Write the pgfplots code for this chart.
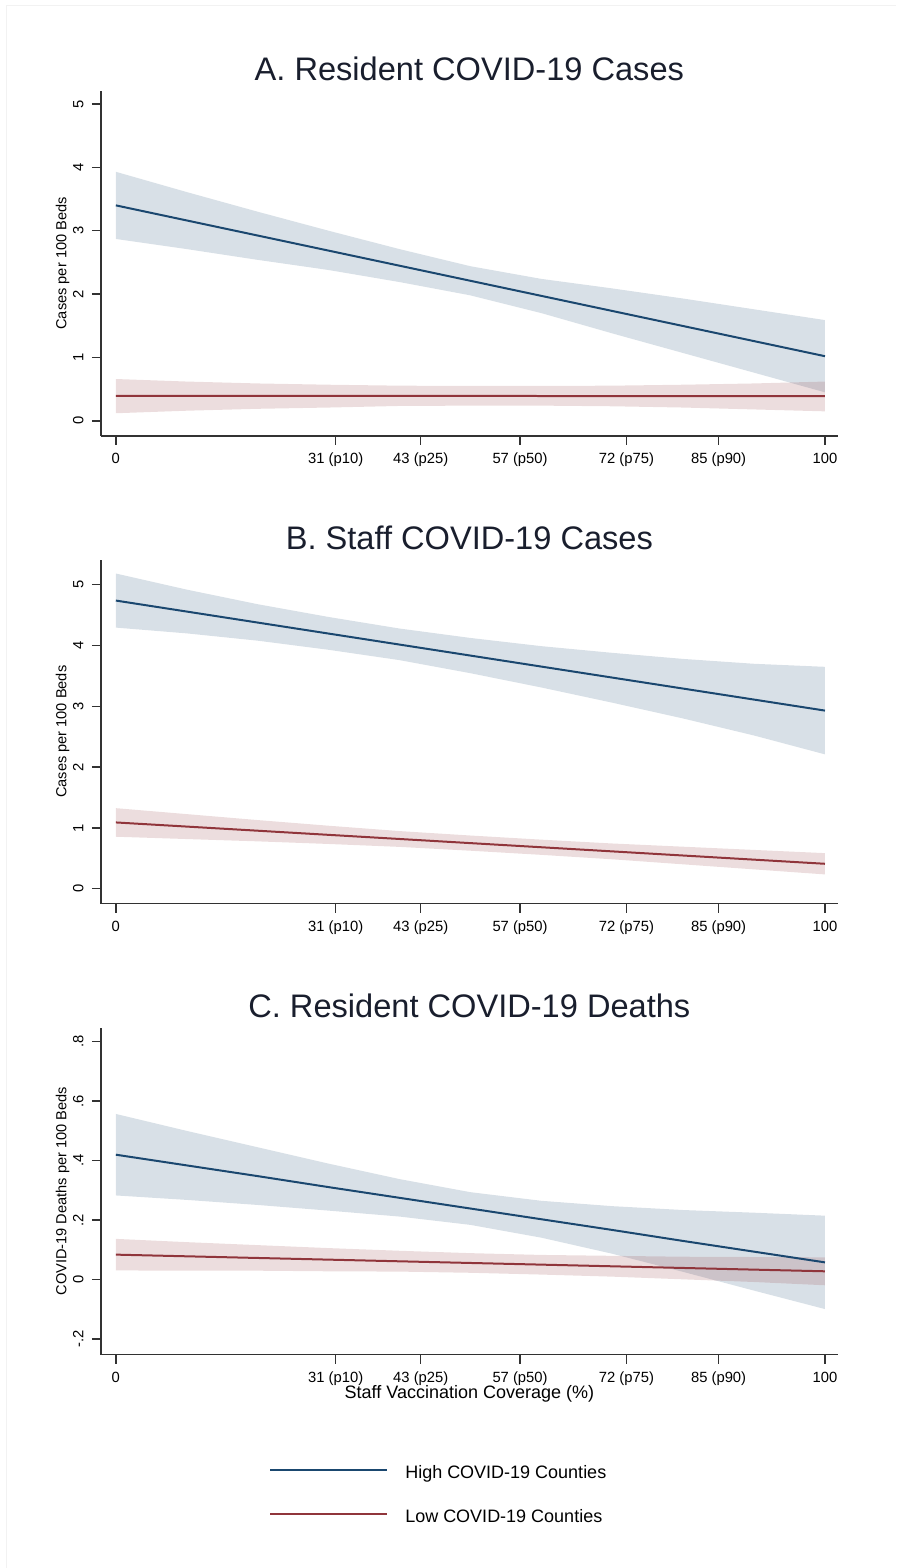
\documentclass[border=0pt]{standalone}
\usepackage{pgfplots}
\pgfplotsset{compat=1.18}
\usepackage{pgfplotstable}
\usepgfplotslibrary{fillbetween}
\usepackage{fontspec}
\setmainfont{Liberation Sans}
\definecolor{snavy}{RGB}{26,71,111}
\definecolor{smaroon}{RGB}{144,53,59}
\definecolor{axgray}{RGB}{50,50,50}
\definecolor{ttl}{RGB}{25,30,45}

% Panel A
\pgfplotstableread{
x L U Lo
0 3.400 3.93 2.87
10 3.162 3.61 2.71
20 2.924 3.30 2.54
30 2.686 3.00 2.38
40 2.448 2.71 2.19
50 2.210 2.44 1.98
60 1.972 2.24 1.70
70 1.734 2.09 1.38
80 1.496 1.93 1.07
90 1.258 1.76 0.76
100 1.020 1.59 0.45
}\hiA
\pgfplotstableread{
x L U Lo
0 0.395 0.66 0.12
10 0.395 0.62 0.16
20 0.394 0.59 0.19
30 0.394 0.57 0.21
40 0.393 0.555 0.235
50 0.393 0.55 0.24
60 0.392 0.55 0.24
70 0.392 0.555 0.23
80 0.391 0.57 0.21
90 0.391 0.59 0.18
100 0.390 0.62 0.15
}\loA
% Panel B
\pgfplotstableread{
x L U Lo
0 4.740 5.185 4.295
10 4.559 4.92 4.20
20 4.378 4.68 4.08
30 4.197 4.47 3.93
40 4.016 4.28 3.76
50 3.835 4.125 3.545
60 3.654 3.99 3.31
70 3.473 3.88 3.06
80 3.292 3.78 2.80
90 3.111 3.70 2.52
100 2.930 3.65 2.21
}\hiB
\pgfplotstableread{
x L U Lo
0 1.090 1.325 0.855
10 1.022 1.227 0.817
20 0.954 1.129 0.779
30 0.886 1.036 0.736
40 0.818 0.948 0.688
50 0.750 0.875 0.625
60 0.682 0.807 0.557
70 0.614 0.744 0.484
80 0.546 0.691 0.401
90 0.478 0.638 0.318
100 0.410 0.585 0.235
}\loB
% Panel C
\pgfplotstableread{
x L U Lo
0 0.420 0.557 0.283
10 0.384 0.500 0.268
20 0.348 0.445 0.251
30 0.311 0.390 0.232
40 0.275 0.338 0.212
50 0.239 0.294 0.184
60 0.203 0.265 0.141
70 0.167 0.247 0.087
80 0.130 0.234 0.026
90 0.094 0.225 -0.037
100 0.058 0.215 -0.099
}\hiC
\pgfplotstableread{
x L U Lo
0 0.0840 0.137 0.031
10 0.0784 0.126 0.030
20 0.0728 0.116 0.030
30 0.0672 0.106 0.028
40 0.0616 0.097 0.027
50 0.0560 0.089 0.023
60 0.0504 0.083 0.017
70 0.0448 0.080 0.010
80 0.0392 0.077 0.001
90 0.0336 0.076 -0.008
100 0.0280 0.075 -0.019
}\loC

\pgfplotsset{
  stata/.style={
    scale only axis, width=368.5pt,
    xmin=-2.1, xmax=101.8,
    axis x line*=bottom, axis y line*=left,
    axis line style={axgray, line width=0.7pt},
    tick align=outside, major tick length=4.5pt,
    every tick/.style={axgray, line width=0.7pt},
    xtick={0,31,43,57,72,85,100},
    xticklabels={0,31 (p10),43 (p25),57 (p50),72 (p75),85 (p90),100},
    tick label style={font=\fontsize{7.4}{8}\selectfont, inner sep=0pt, text=black},
    xticklabel style={anchor=base},
    xticklabel shift=9.5pt,
    yticklabel style={rotate=90, anchor=base},
    yticklabel shift=4.3pt,
    title style={font=\fontsize{16.3}{18}\selectfont, anchor=center, at={(axis description cs:0.5,1)}, yshift=5pt, inner sep=0pt, text=ttl},
    ylabel style={font=\fontsize{7.3}{8}\selectfont, at={(axis description cs:-0.052,0.5)}, anchor=center, inner sep=0pt},
    xlabel style={font=\fontsize{9}{10}\selectfont, inner sep=0pt},
  },
  band/.style={draw=none, fill=#1, fill opacity=0.17},
  mline/.style={#1, line width=1pt},
}

% #1 high table, #2 low table, #3 unique tag
\newcommand{\panel}[3]{%
  \addplot[draw=none, name path=hu#3, forget plot] table[x=x,y=U] {#1};
  \addplot[draw=none, name path=hl#3, forget plot] table[x=x,y=Lo] {#1};
  \addplot[band=snavy, forget plot] fill between[of=hu#3 and hl#3];
  \addplot[draw=none, name path=lu#3, forget plot] table[x=x,y=U] {#2};
  \addplot[draw=none, name path=ll#3, forget plot] table[x=x,y=Lo] {#2};
  \addplot[band=smaroon, forget plot] fill between[of=lu#3 and ll#3];
}

\begin{document}
\begin{tikzpicture}
% Panel A
\begin{axis}[stata, at={(50.5pt,-218pt)}, anchor=south west, height=172.5pt,
  ymin=-0.237, ymax=5.205,
  ytick={0,1,2,3,4,5}, yticklabels={0,1,2,3,4,5},
  title={A. Resident COVID-19 Cases},
  ylabel={Cases per 100 Beds}]
\panel{\hiA}{\loA}{a}
\addplot[mline=snavy] table[x=x,y=L] {\hiA};
\addplot[mline=smaroon] table[x=x,y=L] {\loA};
\end{axis}

% Panel B
\begin{axis}[stata, at={(50.5pt,-452pt)}, anchor=south west, height=172pt,
  ymin=-0.247, ymax=5.41,
  ytick={0,1,2,3,4,5}, yticklabels={0,1,2,3,4,5},
  title={B. Staff COVID-19 Cases},
  ylabel={Cases per 100 Beds}]
\panel{\hiB}{\loB}{b}
\addplot[mline=snavy] table[x=x,y=L] {\hiB};
\addplot[mline=smaroon] table[x=x,y=L] {\loB};
\end{axis}

% Panel C
\begin{axis}[stata, at={(50.5pt,-677.5pt)}, anchor=south west, height=163.5pt,
  ymin=-0.252, ymax=0.847,
  ytick={-0.2,0,0.2,0.4,0.6,0.8}, yticklabels={-.2,0,.2,.4,.6,.8},
  title={C. Resident COVID-19 Deaths},
  ylabel={COVID-19 Deaths per 100 Beds},
  xlabel={Staff Vaccination Coverage (\%)},
  xlabel style={at={(axis description cs:0.5,-0.1195)}, anchor=center},
  legend style={at={(axis description cs:0.2198,-0.327)}, anchor=north west,
    draw=none, fill=none, font=\fontsize{9}{10}\selectfont,
    nodes={inner sep=0pt, text height=6.5pt, text depth=2pt},
    row sep=13.3pt},
  legend cell align=left,
  legend image code/.code={\draw[#1] (0pt,2.1pt) -- (58.5pt,2.1pt); \path[draw=none] (0pt,0pt) -- (67.5pt,0pt);}]
\panel{\hiC}{\loC}{c}
\addplot[mline=snavy] table[x=x,y=L] {\hiC};
\addlegendentry{High COVID-19 Counties}
\addplot[mline=smaroon] table[x=x,y=L] {\loC};
\addlegendentry{Low COVID-19 Counties}
\end{axis}
\draw[black!5, line width=0.5pt] (3.5pt,-784pt) -- (3.5pt,-3pt) -- (448pt,-3pt);
\path (0pt,0pt) rectangle (448pt,-784pt);
\end{tikzpicture}
\end{document}
